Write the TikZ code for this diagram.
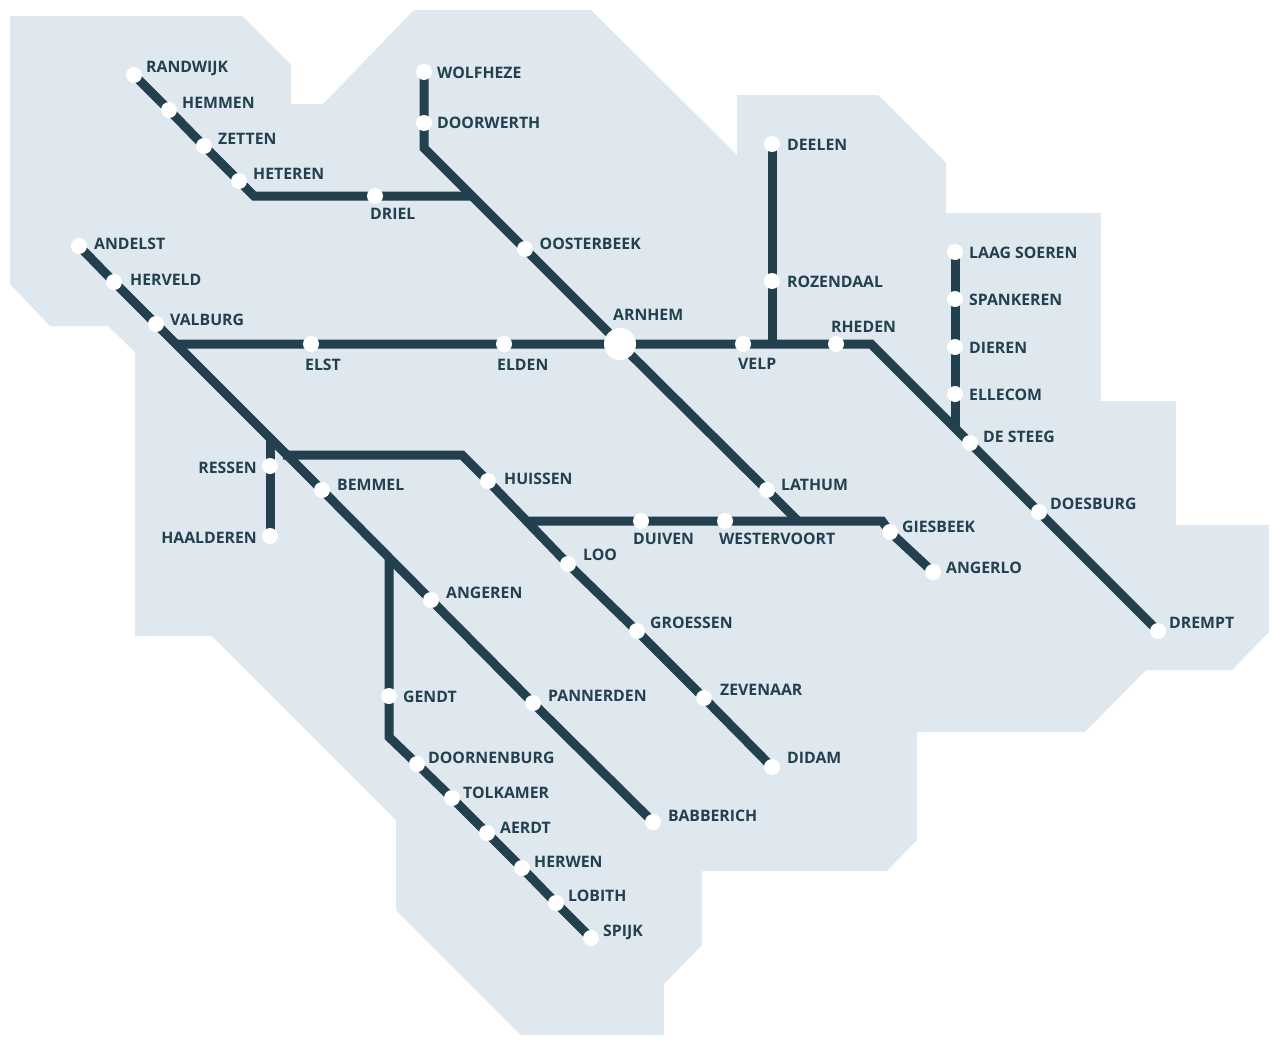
\documentclass[tikz,border=0pt]{standalone}
\usepackage{fontspec}
\setmainfont{Open Sans}
\usetikzlibrary{backgrounds}
\definecolor{regionblue}{HTML}{DFE7EF}
\definecolor{raildark}{HTML}{22404E}

\begin{document}
\begin{tikzpicture}%
        [x=1pt, y=-1pt,
        region/.style={fill=regionblue},
        rail/.style={draw=raildark, line width=9pt, line join=miter},
        stop/.style={circle, fill=white, minimum size=16pt, inner sep=0pt},
        hub/.style={circle, fill=white, minimum size=32pt, inner sep=0pt},
        stoplabel/.style={text=raildark, inner sep=0pt, anchor=west, text height=11.5pt, text depth=0pt,
            yshift=-1pt, font=\fontsize{15.8}{16}\selectfont\bfseries},
        leftlabel/.style={stoplabel, anchor=east}]
    \useasboundingbox (0,0) rectangle (1280,1044);
    %
    %% Drawing the stops
    \node[hub] (arnhem) at (620,344) {};
    \foreach \stopname/\x/\y in {randwijk/134/75, hemmen/169/110, zetten/204/146, heteren/239/181,
        driel/375/196, wolfheze/424/72, doorwerth/424/123, oosterbeek/525/249, deelen/772/144,
        rozendaal/772/281, velp/743/344, rheden/836/344, laagsoeren/955/252, spankeren/955/299,
        dieren/955/347, ellecom/955/394, desteeg/970/443, doesburg/1039/512, drempt/1158/631,
        andelst/79/246, herveld/114/282, valburg/156/324, elst/311/344, elden/504/344,
        ressen/270/466, haalderen/270/536, bemmel/322/490, huissen/488/481, loo/568/564,
        groessen/637/631, zevenaar/704/698, didam/772/767, duiven/641/521, westervoort/725/521,
        lathum/767/490, giesbeek/890/532, angerlo/933/572, angeren/431/600, pannerden/533/703,
        babberich/653/822, gendt/389/696, doornenburg/417/764, tolkamer/452/798, aerdt/487/833,
        herwen/522/868, lobith/556/903, spijk/591/938}
        \node[stop] (\stopname) at (\x,\y) {};
    %
    %% Bends and junctions of the lines
    \coordinate (drielbend) at (254,196);
    \coordinate (drieljoin) at (472,196);
    \coordinate (wolfhezebend) at (424,148);
    \coordinate (valburgbend) at (175,344);
    \coordinate (rozendaaljoin) at (772,344);
    \coordinate (rhedenbend) at (871,344);
    \coordinate (soerenjoin) at (955,430);
    \coordinate (ressenjoin) at (270,436);
    \coordinate (huissenjoin) at (283,455);
    \coordinate (huissenbend) at (462,455);
    \coordinate (duivenjoin) at (527,521);
    \coordinate (lathumjoin) at (798,521);
    \coordinate (giesbeekbend) at (882,521);
    \coordinate (gendtjoin) at (389,556);
    \coordinate (gendtbend) at (389,737);
    %
    %% Drawing the labels
    \foreach \labelname/\x/\y/\labeltext in {randwijk/146/66/RANDWIJK, hemmen/182/102/HEMMEN,
        zetten/218/138/ZETTEN, heteren/253/173/HETEREN, driel/370/213/DRIEL,
        wolfheze/437/72/WOLFHEZE, doorwerth/437/122/DOORWERTH, oosterbeek/539.5/243/OOSTERBEEK,
        arnhem/613/314/ARNHEM, deelen/787/144/DEELEN, rozendaal/787/281/ROZENDAAL,
        rheden/831/326/RHEDEN, velp/738/363/VELP, laagsoeren/969/252/LAAG SOEREN,
        spankeren/969/299/SPANKEREN, dieren/969/347/DIEREN, ellecom/969/394/ELLECOM,
        desteeg/983/436/DE STEEG, doesburg/1050/503/DOESBURG, drempt/1169/622/DREMPT,
        andelst/94/243/ANDELST, herveld/130/279/HERVELD, valburg/170/319/VALBURG,
        elst/305/364/ELST, elden/497/364/ELDEN, bemmel/337/484/BEMMEL,
        huissen/504/478/HUISSEN, loo/583/554/LOO, duiven/633/538/DUIVEN,
        westervoort/719/538/WESTERVOORT, lathum/781/484/LATHUM, giesbeek/902/526/GIESBEEK,
        angerlo/946/567/ANGERLO, angeren/446/592/ANGEREN, groessen/650/622/GROESSEN,
        zevenaar/720/689/ZEVENAAR, didam/787/757/DIDAM, gendt/403/696/GENDT,
        pannerden/548/695/PANNERDEN, doornenburg/428/757/DOORNENBURG, tolkamer/463/792/TOLKAMER,
        aerdt/500/827/AERDT, herwen/534/861/HERWEN, lobith/568/895/LOBITH,
        spijk/603/930/SPIJK, babberich/668/815/BABBERICH}
        \node[stoplabel] (\labelname label) at (\x,\y) {\labeltext};
    \node[leftlabel] (ressenlabel) at (257,467) {RESSEN};
    \node[leftlabel] (haalderenlabel) at (257,537) {HAALDEREN};
    %
    \begin{scope}[on background layer]
    %% Drawing the province
    \fill[region] (10,16) -- (242,16) -- (291,65) -- (291,104) -- (323,104) -- (414,10) -- (591,10)
        -- (737,155) -- (737,95) -- (878,95) -- (946,163) -- (946,213) -- (1101,213) -- (1101,401)
        -- (1176,401) -- (1176,525) -- (1269,525) -- (1269,632) -- (1232,670) -- (1146,670)
        -- (1085,732) -- (917,732) -- (917,840) -- (887,871) -- (702,871) -- (702,945) -- (664,984)
        -- (664,1035) -- (521,1035) -- (396,910) -- (396,820) -- (212,636) -- (135,636) -- (135,352)
        -- (108,326) -- (50,326) -- (10,284) -- cycle;
    %% Drawing the lines
    \draw[rail] (randwijk.center) -- (hemmen.center) -- (zetten.center) -- (heteren.center)
        -- (drielbend) -- (driel.center) -- (drieljoin);
    \draw[rail] (wolfheze.center) -- (doorwerth.center) -- (wolfhezebend) -- (oosterbeek.center)
        -- (arnhem.center) -- (lathum.center) -- (lathumjoin);
    \draw[rail] (valburgbend) -- (elst.center) -- (elden.center) -- (arnhem.center) -- (velp.center)
        -- (rheden.center) -- (rhedenbend) -- (desteeg.center) -- (doesburg.center) -- (drempt.center);
    \draw[rail] (deelen.center) -- (rozendaal.center) -- (rozendaaljoin);
    \draw[rail] (laagsoeren.center) -- (spankeren.center) -- (dieren.center) -- (ellecom.center)
        -- (soerenjoin);
    \draw[rail] (andelst.center) -- (herveld.center) -- (valburg.center) -- (bemmel.center)
        -- (angeren.center) -- (pannerden.center) -- (babberich.center);
    \draw[rail] (ressenjoin) -- (ressen.center) -- (haalderen.center);
    \draw[rail] (huissenjoin) -- (huissenbend) -- (huissen.center) -- (loo.center)
        -- (groessen.center) -- (zevenaar.center) -- (didam.center);
    \draw[rail] (duivenjoin) -- (duiven.center) -- (westervoort.center) -- (giesbeekbend)
        -- (giesbeek.center) -- (angerlo.center);
    \draw[rail] (gendtjoin) -- (gendt.center) -- (gendtbend) -- (doornenburg.center)
        -- (tolkamer.center) -- (aerdt.center) -- (herwen.center) -- (lobith.center) -- (spijk.center);
    \end{scope}
\end{tikzpicture}
\end{document}
